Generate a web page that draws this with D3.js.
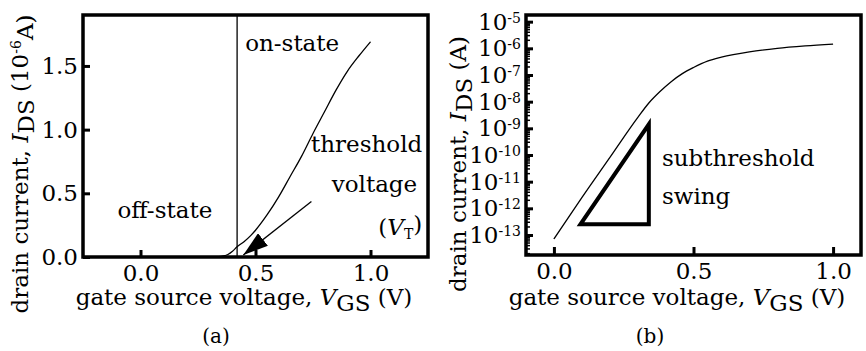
<!DOCTYPE html>
<html>
<head>
<meta charset="utf-8">
<script src="https://cdn.jsdelivr.net/npm/d3@7"></script>
<style>
    body { margin: 0; background: #fff; }
    svg text { font-family: "DejaVu Serif", serif; fill: #000; }
</style>
</head>
<body>
<svg id="chart" width="866" height="351"></svg>
<script>

// Panel (a): linear drain current, in units of 10^-6 A.
const vgsLinear = [0.30, 0.35, 0.38, 0.40, 0.42, 0.45, 0.48, 0.50, 0.55, 0.60, 0.65, 0.70, 0.75, 0.80, 0.85, 0.90, 0.95, 1.00];
const idsLinear = [0, 0.005, 0.02, 0.045, 0.08, 0.12, 0.17, 0.21, 0.33, 0.47, 0.63, 0.79, 0.97, 1.14, 1.31, 1.46, 1.58, 1.69];

// Panel (b): same device on a log scale, exponent of the current in A.
const vgsLog = [0.0, 0.1, 0.2, 0.3, 0.34, 0.38, 0.42, 0.46, 0.50, 0.55, 0.60, 0.70, 0.80, 0.90, 1.00];
const idsLogExp = [-13.15, -11.6, -10.1, -8.6, -8.05, -7.62, -7.25, -6.95, -6.72, -6.48, -6.33, -6.13, -6.0, -5.91, -5.84];

// Ticks.
const xTicks = [0, 0.5, 1.0];
const yTicksLinear = [0, 0.5, 1.0, 1.5];
const yTickExps = [-13, -12, -11, -10, -9, -8, -7, -6, -5];

// Annotations.
const thresholdVoltage = 0.42;
const arrowFrom = [0.743, 0.436];
const arrowTo = [0.447, 0.016];
const swingTriangle = [[0.095, -12.6], [0.34, -12.6], [0.34, -8.85]];

const svg = d3.select('#chart');
const FS = 23;

/**
 * @method frame
 * Thick box around a plot area.
 */
const frame = (g, x, y) => {
    g.append('rect')
        .attr('x', x.range()[0]).attr('y', y.range()[1])
        .attr('width', x.range()[1] - x.range()[0])
        .attr('height', y.range()[0] - y.range()[1])
        .attr('fill', 'none').attr('stroke', '#000').attr('stroke-width', 3.5);
};

const styleAxis = g => {
    g.select('.domain').remove();
    g.selectAll('.tick line').attr('stroke', '#000').attr('stroke-width', 3);
    g.selectAll('.tick text').style('font-size', FS + 'px').style('font-family', '"DejaVu Serif", serif');
};

// Axis title with italic symbol and large, lowered subscript.
const addTitle = (sel, before, sym, sub, after) => {
    sel.append('tspan').text(before);
    sel.append('tspan').style('font-style', 'italic').text(sym);
    sel.append('tspan').attr('dy', '0.28em').text(sub);
    sel.append('tspan').attr('dy', '-0.28em').text(after);
    return sel;
};

// ---------- panel (a) ----------
const xA = d3.scaleLinear([-0.25, 1.25], [83, 428]);
const yA = d3.scaleLinear([0, 1.9], [257, 15]);
const gA = svg.append('g');

gA.append('g').attr('transform', `translate(0,${yA.range()[0]})`)
    .call(d3.axisBottom(xA).tickValues(xTicks).tickFormat(d3.format('.1f')).tickSizeInner(-7).tickSizeOuter(0).tickPadding(8))
    .call(styleAxis);

gA.append('g').attr('transform', `translate(${xA.range()[0]},0)`)
    .call(d3.axisLeft(yA).tickValues(yTicksLinear).tickFormat(d3.format('.1f')).tickSizeInner(-7).tickSizeOuter(0).tickPadding(5))
    .call(styleAxis);

gA.append('line')
    .attr('x1', xA(thresholdVoltage)).attr('x2', xA(thresholdVoltage))
    .attr('y1', yA.range()[1]).attr('y2', yA.range()[0])
    .attr('stroke', '#000').attr('stroke-width', 1.3);

const lineA = d3.line().curve(d3.curveMonotoneX).x(d => xA(d[0])).y(d => yA(d[1]));
gA.append('path').attr('d', lineA(d3.zip(vgsLinear, idsLinear)))
    .attr('fill', 'none').attr('stroke', '#000').attr('stroke-width', 1.3);

svg.append('defs').append('marker')
    .attr('id', 'head').attr('viewBox', '0 0 25 16')
    .attr('refX', 25).attr('refY', 8)
    .attr('markerWidth', 25).attr('markerHeight', 16)
    .attr('markerUnits', 'userSpaceOnUse').attr('orient', 'auto')
    .append('path').attr('d', 'M0,0L25,8L0,16Z').attr('fill', '#000');

gA.append('line')
    .attr('x1', xA(arrowFrom[0])).attr('y1', yA(arrowFrom[1]))
    .attr('x2', xA(arrowTo[0])).attr('y2', yA(arrowTo[1]))
    .attr('stroke', '#000').attr('stroke-width', 1.3).attr('marker-end', 'url(#head)');

frame(gA, xA, yA);

const labelA = (txt, x, y, anchor) => gA.append('text')
    .attr('x', xA(x)).attr('y', yA(y)).attr('text-anchor', anchor)
    .style('font-size', FS + 'px').text(txt);

labelA('on-state', 0.455, 1.617, 'start');
labelA('off-state', -0.1, 0.308, 'start');
labelA('threshold', 1.225, 0.828, 'end');
labelA('voltage', 1.203, 0.513, 'end');

const vt = gA.append('text').attr('x', xA(1.225)).attr('y', yA(0.173))
    .attr('text-anchor', 'end').style('font-size', FS + 'px');
vt.append('tspan').text('(');
vt.append('tspan').style('font-style', 'italic').text('V');
vt.append('tspan').attr('dy', '0.3em').style('font-size', '14px').text('T');
vt.append('tspan').attr('dy', '-0.3em').text(')');

// ---------- panel (b) ----------
const xB = d3.scaleLinear([-0.1, 1.1], [526, 861]);
const yB = d3.scaleLog([10 ** -13.75, 10 ** -4.75], [255, 15]);
const gB = svg.append('g');

gB.append('g').attr('transform', `translate(0,${yB.range()[0]})`)
    .call(d3.axisBottom(xB).tickValues(xTicks).tickFormat(d3.format('.1f')).tickSizeInner(-8).tickSizeOuter(0).tickPadding(8))
    .call(styleAxis);

// minor decade ticks
const minor = [];
yTickExps.concat([-14]).forEach(e => d3.range(2, 10).forEach(m => minor.push(m * 10 ** e)));
gB.append('g').selectAll('line')
    .data(minor.filter(v => v >= yB.domain()[0] && v <= yB.domain()[1]))
    .join('line')
    .attr('x1', xB.range()[0]).attr('x2', xB.range()[0] + 4)
    .attr('y1', d => yB(d)).attr('y2', d => yB(d))
    .attr('stroke', '#000').attr('stroke-width', 1.5);

const yAxisB = gB.append('g').attr('transform', `translate(${xB.range()[0]},0)`)
    .call(d3.axisLeft(yB).tickValues(yTickExps.map(e => 10 ** e)).tickFormat('').tickSizeInner(-7).tickSizeOuter(0).tickPadding(5))
    .call(styleAxis);

yAxisB.selectAll('.tick text').each(function (d) {
    const t = d3.select(this).text(null);
    t.append('tspan').text('10');
    t.append('tspan').attr('dy', '-0.5em').style('font-size', '14px').text(Math.round(Math.log10(d)));
});

const lineB = d3.line().curve(d3.curveMonotoneX).x(d => xB(d[0])).y(d => yB(10 ** d[1]));
gB.append('path').attr('d', lineB(d3.zip(vgsLog, idsLogExp)))
    .attr('fill', 'none').attr('stroke', '#000').attr('stroke-width', 1.3);

gB.append('path').attr('d', lineB.curve(d3.curveLinearClosed)(swingTriangle))
    .attr('fill', 'none').attr('stroke', '#000').attr('stroke-width', 4).attr('stroke-linejoin', 'miter');

frame(gB, xB, yB);

gB.append('text').attr('x', xB(0.387)).attr('y', yB(10 ** -10.41))
    .style('font-size', FS + 'px').text('subthreshold');
gB.append('text').attr('x', xB(0.387)).attr('y', yB(10 ** -11.84))
    .style('font-size', FS + 'px').text('swing');

// ---------- titles ----------
[[244, 'a', ' (10', '-6', 'A)'], [677, 'b', ' (A)', null, null]].forEach(([cx, tag, unit, sup, rest], i) => {

    const xt = svg.append('text').attr('x', cx).attr('y', 305)
        .attr('text-anchor', 'middle').style('font-size', FS + 'px');
    addTitle(xt, 'gate source voltage, ', 'V', 'GS', ' (V)');

    const yx = i === 0 ? 28 : 466;
    const yt = svg.append('text').attr('transform', `translate(${yx},164) rotate(-90)`)
        .attr('text-anchor', 'middle').style('font-size', FS + 'px');
    addTitle(yt, 'drain current, ', 'I', 'DS', unit);
    if (sup) {
        yt.append('tspan').attr('dy', '-0.5em').style('font-size', '14px').text(sup);
        yt.append('tspan').attr('dy', '0.5em').text(rest);
    }

    svg.append('text').attr('x', i === 0 ? 216 : 650).attr('y', 343)
        .attr('text-anchor', 'middle').style('font-size', '20px').text(`(${tag})`);

});

</script>
</body>
</html>
